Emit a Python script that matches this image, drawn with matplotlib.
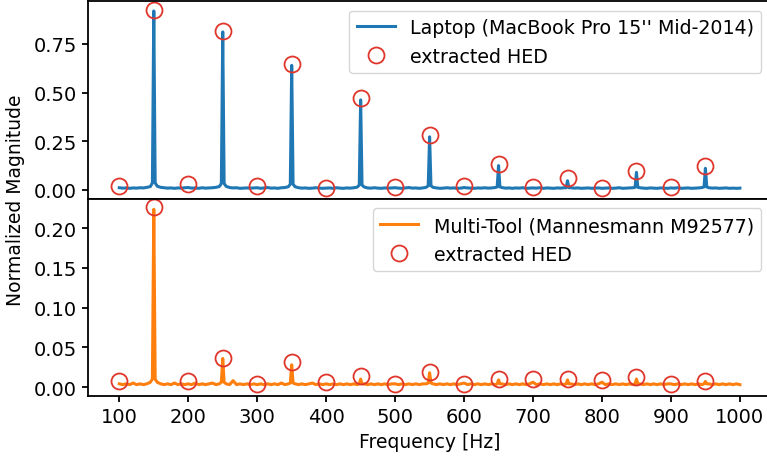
import numpy as np
import matplotlib.pyplot as plt

# spectra sampled every 5 Hz from 100 to 1000 Hz
freq = np.arange(100, 1001, 5)

laptop = [
    0.010, 0.008, 0.009, 0.007, 0.009, 0.008, 0.010, 0.009, 0.012, 0.016,
    0.920, 0.018, 0.012, 0.010, 0.008, 0.009, 0.007, 0.009, 0.008, 0.010,
    0.011, 0.008, 0.009, 0.007, 0.010, 0.008, 0.009, 0.010, 0.012, 0.016,
    0.812, 0.017, 0.011, 0.009, 0.010, 0.007, 0.008, 0.009, 0.008, 0.009,
    0.010, 0.007, 0.009, 0.011, 0.008, 0.009, 0.007, 0.010, 0.011, 0.015,
    0.640, 0.015, 0.010, 0.008, 0.009, 0.007, 0.008, 0.010, 0.008, 0.007,
    0.008, 0.009, 0.007, 0.010, 0.008, 0.007, 0.009, 0.008, 0.010, 0.013,
    0.462, 0.014, 0.009, 0.008, 0.010, 0.008, 0.007, 0.009, 0.008, 0.009,
    0.010, 0.008, 0.007, 0.009, 0.011, 0.008, 0.009, 0.007, 0.009, 0.012,
    0.272, 0.012, 0.009, 0.007, 0.008, 0.010, 0.008, 0.009, 0.007, 0.008,
    0.011, 0.009, 0.008, 0.007, 0.009, 0.008, 0.010, 0.008, 0.009, 0.011,
    0.124, 0.011, 0.008, 0.009, 0.007, 0.009, 0.008, 0.010, 0.007, 0.008,
    0.009, 0.008, 0.010, 0.007, 0.009, 0.008, 0.007, 0.009, 0.008, 0.010,
    0.046, 0.010, 0.008, 0.009, 0.007, 0.008, 0.009, 0.007, 0.008, 0.009,
    0.007, 0.008, 0.009, 0.007, 0.008, 0.010, 0.007, 0.008, 0.009, 0.010,
    0.089, 0.010, 0.008, 0.007, 0.009, 0.008, 0.007, 0.009, 0.008, 0.007,
    0.009, 0.008, 0.010, 0.007, 0.008, 0.009, 0.007, 0.008, 0.009, 0.011,
    0.110, 0.010, 0.008, 0.009, 0.007, 0.008, 0.009, 0.007, 0.008, 0.007,
    0.008,
]

tool = [
    0.004, 0.003, 0.004, 0.003, 0.005, 0.003, 0.004, 0.003, 0.004, 0.006,
    0.224, 0.006, 0.004, 0.003, 0.004, 0.003, 0.005, 0.003, 0.004, 0.003,
    0.004, 0.003, 0.005, 0.003, 0.004, 0.003, 0.004, 0.005, 0.003, 0.004,
    0.036, 0.004, 0.003, 0.008, 0.003, 0.004, 0.003, 0.004, 0.003, 0.004,
    0.003, 0.004, 0.003, 0.004, 0.003, 0.004, 0.003, 0.005, 0.003, 0.004,
    0.028, 0.004, 0.003, 0.004, 0.003, 0.004, 0.005, 0.003, 0.004, 0.003,
    0.004, 0.003, 0.004, 0.003, 0.004, 0.003, 0.004, 0.003, 0.004, 0.003,
    0.010, 0.004, 0.003, 0.004, 0.003, 0.004, 0.003, 0.004, 0.003, 0.004,
    0.004, 0.003, 0.004, 0.003, 0.004, 0.003, 0.004, 0.003, 0.004, 0.004,
    0.018, 0.004, 0.003, 0.004, 0.003, 0.004, 0.003, 0.004, 0.003, 0.004,
    0.005, 0.003, 0.004, 0.003, 0.004, 0.003, 0.004, 0.003, 0.004, 0.003,
    0.009, 0.004, 0.003, 0.004, 0.003, 0.004, 0.003, 0.004, 0.003, 0.004,
    0.006, 0.003, 0.004, 0.003, 0.004, 0.003, 0.004, 0.003, 0.004, 0.003,
    0.009, 0.004, 0.003, 0.004, 0.003, 0.004, 0.003, 0.004, 0.003, 0.004,
    0.006, 0.003, 0.004, 0.003, 0.004, 0.003, 0.004, 0.003, 0.004, 0.003,
    0.010, 0.004, 0.003, 0.004, 0.003, 0.004, 0.003, 0.004, 0.003, 0.004,
    0.004, 0.003, 0.004, 0.003, 0.004, 0.003, 0.004, 0.003, 0.004, 0.003,
    0.007, 0.004, 0.003, 0.004, 0.003, 0.004, 0.003, 0.004, 0.003, 0.004,
    0.003,
]

# extra samples 2 Hz either side of each harmonic, so the peaks stay narrow
peak_freq = [150, 250, 350, 450, 550, 650, 750, 850, 950]
laptop_shoulder = [0.035, 0.032, 0.028, 0.024, 0.020, 0.014, 0.010, 0.012, 0.014]
tool_shoulder = [0.010, 0.006, 0.005, 0.004, 0.005, 0.004, 0.004, 0.004, 0.004]

# extracted harmonic energy distribution (HED)
hed_freq = np.arange(100, 951, 50)
laptop_hed = [0.021, 0.925, 0.029, 0.817, 0.021, 0.647, 0.009, 0.472, 0.015,
              0.281, 0.021, 0.132, 0.015, 0.059, 0.007, 0.098, 0.015, 0.120]
tool_hed = [0.0076, 0.227, 0.0076, 0.037, 0.0034, 0.0316, 0.0063, 0.0139, 0.0043,
            0.019, 0.0043, 0.0106, 0.0097, 0.0097, 0.0085, 0.013, 0.0043, 0.0076]


def with_shoulders(values, shoulder):
    f = np.concatenate([freq, np.array(peak_freq) - 2, np.array(peak_freq) + 2])
    v = np.concatenate([values, shoulder, shoulder])
    order = np.argsort(f)
    return f[order], v[order]


plt.rcParams['font.size'] = 13.5
plt.rcParams['xtick.labelsize'] = 14
plt.rcParams['ytick.labelsize'] = 14
plt.rcParams['legend.fontsize'] = 13.7
plt.rcParams['axes.linewidth'] = 1.3
plt.rcParams['xtick.major.width'] = 1.3
plt.rcParams['ytick.major.width'] = 1.3
plt.rcParams['xtick.major.size'] = 4.5
plt.rcParams['ytick.major.size'] = 4.5

fig = plt.figure(figsize=(7.67, 4.60), dpi=100)
ax1 = fig.add_axes([0.1151, 0.5652, 0.890, 0.4304])
ax2 = fig.add_axes([0.1151, 0.1370, 0.890, 0.4283])

circ = dict(linestyle='none', marker='o', markersize=11.5, markerfacecolor='none',
            markeredgecolor='#e0352b', markeredgewidth=1.3)

f1, v1 = with_shoulders(laptop, laptop_shoulder)
ax1.plot(f1, v1, color='#1f77b4', lw=2.2, label="Laptop (MacBook Pro 15'' Mid-2014)")
ax1.plot(hed_freq, laptop_hed, label='extracted HED', **circ)
ax1.set_ylim(-0.048, 0.971)
ax1.set_yticks([0, 0.25, 0.5, 0.75])
ax1.tick_params(bottom=False, labelbottom=False)
ax1.legend(loc='upper right')

f2, v2 = with_shoulders(tool, tool_shoulder)
ax2.plot(f2, v2, color='#ff7f0e', lw=2.2, label='Multi-Tool (Mannesmann M92577)')
ax2.plot(hed_freq, tool_hed, label='extracted HED', **circ)
ax2.set_ylim(-0.0113, 0.237)
ax2.set_xticks(np.arange(100, 1001, 100))
ax2.set_xlabel('Frequency [Hz]')
ax2.legend(loc='upper right')

for ax in (ax1, ax2):
    ax.set_xlim(55, 1045)

fig.text(0.02, 0.565, 'Normalized Magnitude', rotation=90, ha='center', va='center')

fig.savefig('out.png', dpi=100)
